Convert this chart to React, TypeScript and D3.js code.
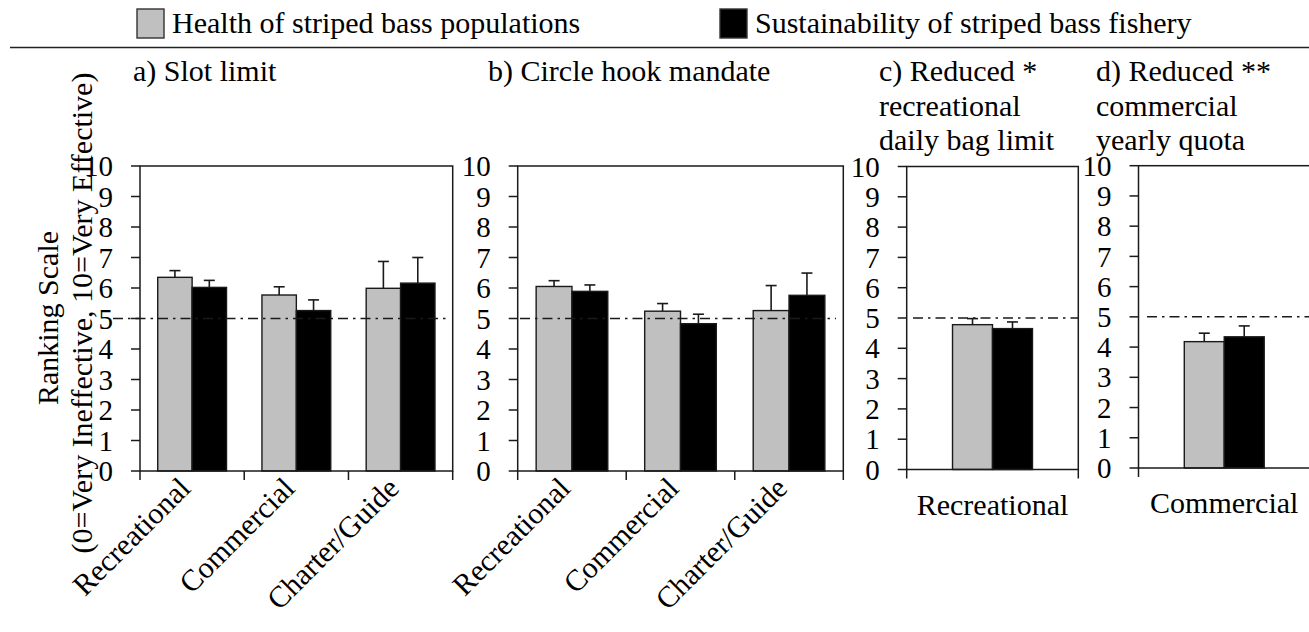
import React from "react";
import * as d3 from "d3";

const seriesNames = ["Health of striped bass populations", "Sustainability of striped bass fishery"];
const seriesColors = ["#c0c0c0", "#000000"];

const groupCats = ["Recreational", "Commercial", "Charter/Guide"];
const slotHealth = [6.35, 5.77, 5.99];
const slotHealthErr = [0.22, 0.27, 0.88];
const slotSust = [6.02, 5.26, 6.16];
const slotSustErr = [0.23, 0.35, 0.84];

const circleHealth = [6.05, 5.24, 5.26];
const circleHealthErr = [0.19, 0.25, 0.82];
const circleSust = [5.89, 4.83, 5.76];
const circleSustErr = [0.21, 0.31, 0.73];

const bagCats = ["Recreational"];
const bagHealth = [4.78];
const bagHealthErr = [0.2];
const bagSust = [4.65];
const bagSustErr = [0.22];

const quotaCats = ["Commercial"];
const quotaHealth = [4.18];
const quotaHealthErr = [0.28];
const quotaSust = [4.34];
const quotaSustErr = [0.36];

const yTicks = [0, 1, 2, 3, 4, 5, 6, 7, 8, 9, 10];
const refValue = 5;

const FONT = "'Liberation Serif', 'Times New Roman', serif";

type Panel = {
  title: string[];
  cats: string[];
  values: number[][];
  errs: number[][];
  x0: number;
  x1: number;
  y0: number;
  y1: number;
  frac: number;
  rotated: boolean;
  titleX: number;
  refStart: number;
  refEnd: number;
};

const panels: Panel[] = [
  { title: ["a) Slot limit"], cats: groupCats, values: [slotHealth, slotSust], errs: [slotHealthErr, slotSustErr], x0: 140, x1: 452.7, y0: 471, y1: 166, frac: 0.66, rotated: true, titleX: 133, refStart: 113, refEnd: 449 },
  { title: ["b) Circle hook mandate"], cats: groupCats, values: [circleHealth, circleSust], errs: [circleHealthErr, circleSustErr], x0: 517.7, x1: 843.3, y0: 471, y1: 166, frac: 0.66, rotated: true, titleX: 488, refStart: 520, refEnd: 836 },
  { title: ["c) Reduced *", "recreational", "daily bag limit"], cats: bagCats, values: [bagHealth, bagSust], errs: [bagHealthErr, bagSustErr], x0: 906.7, x1: 1078.3, y0: 469.5, y1: 166.5, frac: 0.466, rotated: false, titleX: 879, refStart: 913, refEnd: 1078 },
  { title: ["d) Reduced **", "commercial", "yearly quota"], cats: quotaCats, values: [quotaHealth, quotaSust], errs: [quotaHealthErr, quotaSustErr], x0: 1138.5, x1: 1310, y0: 468, y1: 165.7, frac: 0.466, rotated: false, titleX: 1096, refStart: 1147, refEnd: 1309 },
];

function PanelView({ p }: { p: Panel }) {
  const x = d3.scaleBand<string>().domain(p.cats).range([p.x0, p.x1]).padding(0);
  const y = d3.scaleLinear().domain([0, 10]).range([p.y0, p.y1]);
  const step = x.step();
  const gw = step * p.frac;
  const stroke = "#1a1a1a";
  const boundaries = p.cats.map((c) => x(c)!).concat([p.x1]);
  return (
    <g>
      {p.title.map((t, i) => (
        <text key={i} x={p.titleX} y={81 + i * 34.5} fontSize={30} fontFamily={FONT} fill="#000">{t}</text>
      ))}
      {p.cats.map((c, ci) => {
        const cx = x(c)! + step / 2;
        const xs = d3.scaleBand<number>().domain([0, 1]).range([cx - gw / 2, cx + gw / 2]).padding(0);
        return (
          <g key={c}>
            {[0, 1].map((si) => {
              const v = p.values[si][ci];
              const e = p.errs[si][ci];
              const bx = xs(si)!;
              const bw = xs.bandwidth();
              const mx = bx + bw / 2;
              return (
                <g key={si}>
                  <line x1={mx} x2={mx} y1={y(v)} y2={y(v + e)} stroke={stroke} strokeWidth={1.6} />
                  <line x1={mx - 5.5} x2={mx + 5.5} y1={y(v + e)} y2={y(v + e)} stroke={stroke} strokeWidth={1.6} />
                  <rect x={bx} y={y(v)} width={bw} height={y(0) - y(v)} fill={seriesColors[si]} stroke={stroke} strokeWidth={1.4} />
                </g>
              );
            })}
          </g>
        );
      })}
      <line x1={p.refStart} x2={p.refEnd} y1={y(refValue)} y2={y(refValue)} stroke={stroke} strokeWidth={1.5} strokeDasharray="10,5,2.5,5" />
      <rect x={p.x0} y={p.y1} width={p.x1 - p.x0} height={p.y0 - p.y1} fill="none" stroke={stroke} strokeWidth={1.5} />
      {yTicks.map((t) => (
        <g key={t}>
          <line x1={p.x0 - 9} x2={p.x0} y1={y(t)} y2={y(t)} stroke={stroke} strokeWidth={1.5} />
          <text x={p.x0 - 27} y={y(t)} dy="0.35em" textAnchor="end" fontSize={29} fontFamily={FONT} fill="#000">{t}</text>
        </g>
      ))}
      {boundaries.map((bx, i) => (
        <line key={i} x1={bx} x2={bx} y1={p.y0} y2={p.y0 + 9} stroke={stroke} strokeWidth={1.5} />
      ))}
      {p.cats.map((c) => {
        const cx = x(c)! + step / 2;
        if (p.rotated) {
          const ax = cx;
          const ay = p.y0 + 19;
          return (
            <text key={c} x={ax} y={ay} textAnchor="end" fontSize={30} fontFamily={FONT} fill="#000" transform={`rotate(-45 ${ax} ${ay})`}>{c}</text>
          );
        }
        return (
          <text key={c} x={cx} y={p.y0 + 45} textAnchor="middle" fontSize={30} fontFamily={FONT} fill="#000">{c}</text>
        );
      })}
    </g>
  );
}

export default function App() {
  const legendX = [137, 720];
  return (
    <svg width={1309} height={632} style={{ position: "absolute", left: 0, top: 0, background: "#fff" }}>
      <rect x={0} y={0} width={1309} height={632} fill="#fff" />
      {seriesNames.map((n, i) => (
        <g key={n}>
          <rect x={legendX[i]} y={9} width={27} height={29} fill={seriesColors[i]} stroke="#333" strokeWidth={1.4} />
          <text x={legendX[i] + 35} y={33} fontSize={30} fontFamily={FONT} fill="#000">{n}</text>
        </g>
      ))}
      <line x1={10} x2={1309} y1={47.5} y2={47.5} stroke="#222" strokeWidth={1.5} />
      <text transform="translate(58,318) rotate(-90)" textAnchor="middle" fontSize={30} fontFamily={FONT} fill="#000">Ranking Scale</text>
      <text transform="translate(92,313) rotate(-90)" textAnchor="middle" fontSize={30} fontFamily={FONT} fill="#000">(0=Very Ineffective, 10=Very Effective)</text>
      {panels.map((p, i) => (
        <PanelView key={i} p={p} />
      ))}
    </svg>
  );
}
